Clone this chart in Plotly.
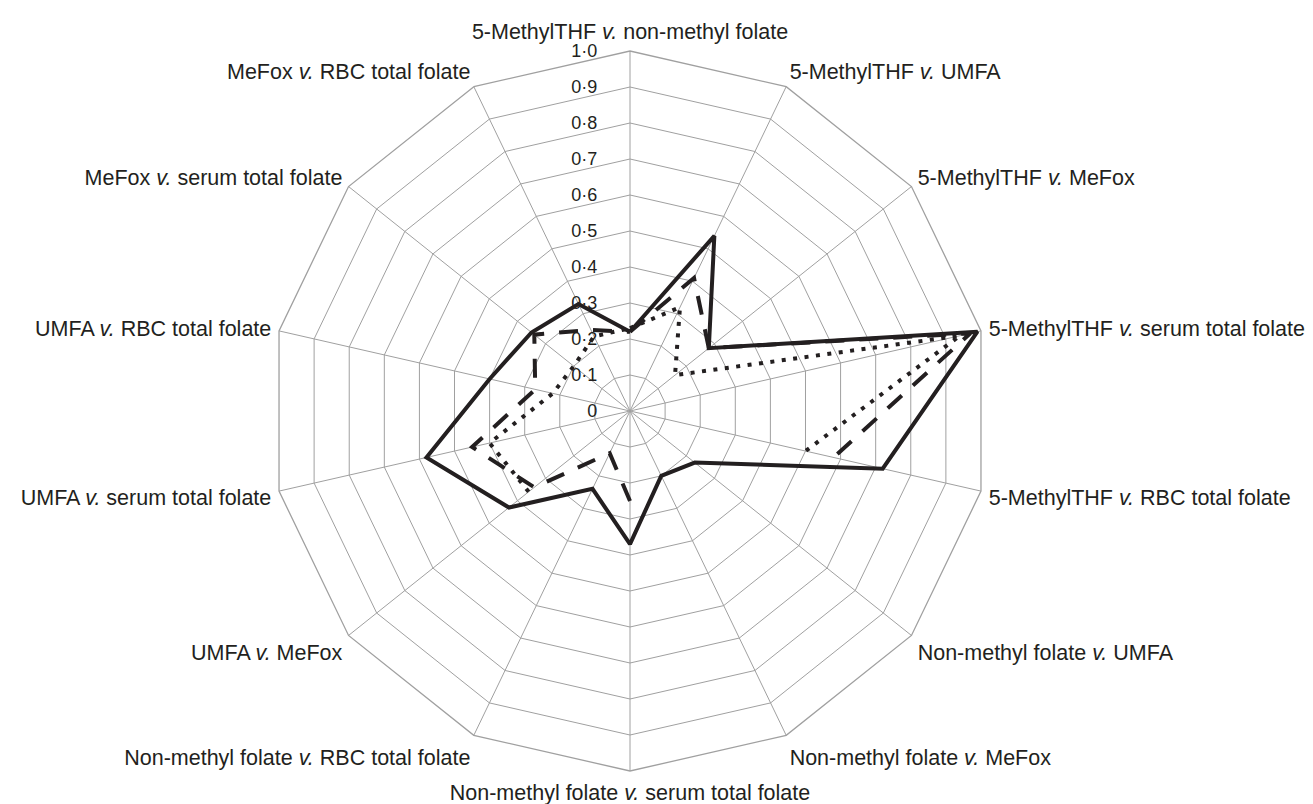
import plotly.graph_objects as go

# Spoke labels, clockwise from the top
categories = [
    "5-MethylTHF <i>v.</i> non-methyl folate",
    "5-MethylTHF <i>v.</i> UMFA",
    "5-MethylTHF <i>v.</i> MeFox",
    "5-MethylTHF <i>v.</i> serum total folate",
    "5-MethylTHF <i>v.</i> RBC total folate",
    "Non-methyl folate <i>v.</i> UMFA",
    "Non-methyl folate <i>v.</i> MeFox",
    "Non-methyl folate <i>v.</i> serum total folate",
    "Non-methyl folate <i>v.</i> RBC total folate",
    "UMFA <i>v.</i> MeFox",
    "UMFA <i>v.</i> serum total folate",
    "UMFA <i>v.</i> RBC total folate",
    "MeFox <i>v.</i> serum total folate",
    "MeFox <i>v.</i> RBC total folate",
]

# Correlation coefficients per comparison (None = not shown)
solid_values = [0.22, 0.54, 0.28, 0.99, 0.72, 0.23, 0.20, 0.37, 0.24, 0.43, 0.58, 0.40, 0.35, 0.33]
dashed_values = [0.22, 0.41, 0.28, 0.97, 0.58, None, None, 0.25, 0.13, 0.34, 0.45, 0.27, 0.34, 0.25]
dotted_values = [0.23, 0.32, 0.16, 0.94, 0.50, None, None, None, None, 0.36, 0.40, 0.22, 0.20, 0.23]

radial_ticks = [0, 0.1, 0.2, 0.3, 0.4, 0.5, 0.6, 0.7, 0.8, 0.9, 1.0]
radial_tick_text = ["0", "0·1", "0·2", "0·3", "0·4", "0·5", "0·6", "0·7", "0·8", "0·9", "1·0"]

INK = "#231f20"
GRID = "#a0a0a0"


def closed(vals):
    return list(vals) + [vals[0]], categories + [categories[0]]


fig = go.Figure()
for vals, dash in [
    (solid_values, "solid"),
    (dashed_values, "19px,15px"),
    (dotted_values, "4px,7.5px"),
]:
    r, th = closed(vals)
    fig.add_trace(go.Scatterpolar(
        r=r, theta=th, mode="lines",
        line=dict(color=INK, width=4, dash=dash),
        connectgaps=False, showlegend=False, hoverinfo="skip",
    ))

W, H = 1313, 804
cx, R = 630, 360
fig.update_layout(
    width=W, height=H,
    margin=dict(l=0, r=0, t=51, b=33),
    paper_bgcolor="white",
    plot_bgcolor="white",
    font=dict(family="Liberation Sans, Arial, sans-serif", color=INK),
    polar=dict(
        domain=dict(x=[(cx - R) / W, (cx + R) / W], y=[0, 1]),
        bgcolor="white",
        gridshape="linear",
        angularaxis=dict(
            type="category",
            categoryarray=categories,
            direction="clockwise",
            rotation=90,
            showline=True, linecolor=GRID, linewidth=1.3,
            gridcolor=GRID, gridwidth=1.3,
            ticks="outside", ticklen=3, tickcolor="rgba(0,0,0,0)",
            tickfont=dict(size=21.5, color=INK),
        ),
        radialaxis=dict(
            range=[0, 1],
            angle=90,
            side="counterclockwise",
            tickvals=radial_ticks,
            ticktext=radial_tick_text,
            showline=False,
            gridcolor=GRID, gridwidth=1.3,
            ticks="outside", ticklen=26, tickcolor="rgba(0,0,0,0)",
            tickangle=90,
            tickfont=dict(size=18, color=INK),
        ),
    ),
)

fig.write_html("out.html")
